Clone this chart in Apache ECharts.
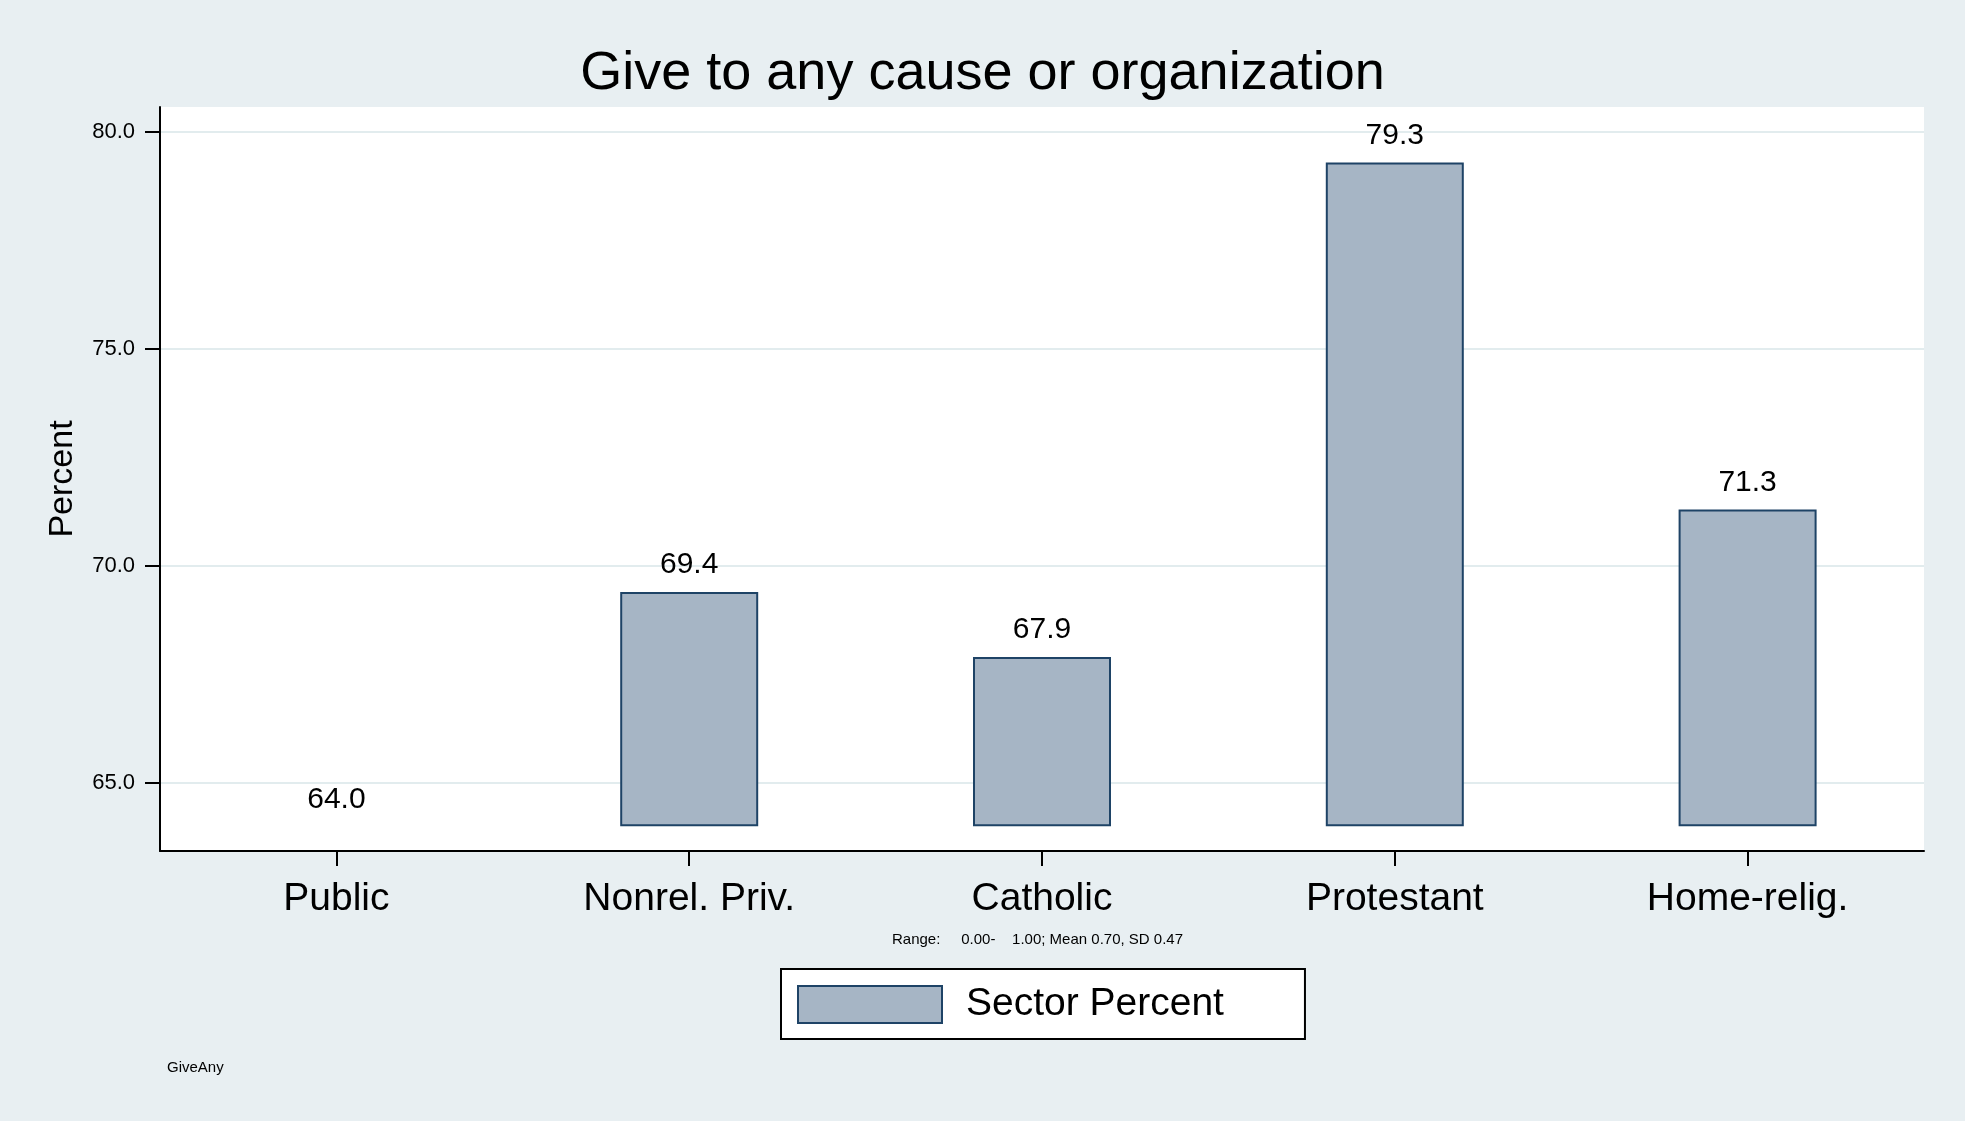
<!DOCTYPE html>
<html>
<head>
<meta charset="utf-8">
<script src="https://cdn.jsdelivr.net/npm/echarts@6/dist/echarts.min.js"></script>
<style>
html,body{margin:0;padding:0;background:#ffffff;}
#c{width:1965px;height:1125px;}
</style>
</head>
<body>
<div id="c"></div>
<script>
const categories = ['Public', 'Nonrel. Priv.', 'Catholic', 'Protestant', 'Home-relig.'];
const values = [64.0, 69.4, 67.9, 79.3, 71.3];
const barBase = 64.0;
const yTicks = [65, 70, 75, 80];
const yMin = 63.43;
const yMax = 80.58;
const seriesName = 'Sector Percent';
const titleText = 'Give to any cause or organization';
const noteText = 'Range:     0.00-    1.00; Mean 0.70, SD 0.47';
const varName = 'GiveAny';

const FONT = "'Liberation Sans', Arial, sans-serif";
const chart = echarts.init(document.getElementById('c'));

chart.setOption({
  backgroundColor: '#e8eff2',
  animation: false,
  title: {
    text: titleText,
    left: 'center',
    top: 47,
    padding: 0,
    textStyle: { fontFamily: FONT, fontSize: 54, fontWeight: 'normal', color: '#000' }
  },
  legend: {
    data: [seriesName],
    left: 781,
    top: 969,
    orient: 'horizontal',
    backgroundColor: '#ffffff',
    borderColor: '#000000',
    borderWidth: 2,
    borderRadius: 0,
    padding: [16, 81, 15, 16],
    itemWidth: 144,
    itemHeight: 37,
    icon: 'rect',
    selectedMode: false,
    itemStyle: { color: '#a6b5c5', borderColor: '#1e4366', borderWidth: 2 },
    textStyle: { fontFamily: FONT, fontSize: 39, color: '#000', padding: [0, 0, 0, 19] }
  },
  grid: {
    left: 160, right: 41, top: 107, bottom: 274,
    show: true, backgroundColor: '#ffffff', borderWidth: 0
  },
  xAxis: {
    type: 'category',
    data: categories,
    boundaryGap: true,
    axisLine: { show: true, lineStyle: { color: '#000', width: 2 } },
    axisTick: { show: true, alignWithLabel: true, length: 15, lineStyle: { color: '#000', width: 2 } },
    axisLabel: { fontFamily: FONT, fontSize: 39, color: '#000', margin: 29 },
    splitLine: { show: false }
  },
  yAxis: {
    type: 'value',
    min: yMin,
    max: yMax,
    name: 'Percent',
    nameLocation: 'middle',
    nameGap: 80,
    nameTextStyle: { fontFamily: FONT, fontSize: 34, color: '#000' },
    axisLine: { show: true, lineStyle: { color: '#000', width: 2 } },
    axisTick: { show: true, length: 15, customValues: yTicks, lineStyle: { color: '#000', width: 2 } },
    axisLabel: {
      fontFamily: FONT, fontSize: 22, color: '#000', margin: 25,
      customValues: yTicks,
      formatter: v => Number(v).toFixed(1)
    },
    splitLine: { show: true, lineStyle: { color: '#e2ecee', width: 2 } }
  },
  series: [
    {
      name: 'base',
      type: 'bar',
      stack: 'b',
      silent: true,
      barWidth: 138,
      data: categories.map(() => barBase),
      itemStyle: { color: 'rgba(0,0,0,0)', borderWidth: 0 },
      label: { show: false },
      tooltip: { show: false }
    },
    {
      name: seriesName,
      type: 'bar',
      stack: 'b',
      barWidth: 138,
      data: values.map(v => ({
        value: v - barBase,
        itemStyle: (v - barBase) === 0 ? { borderWidth: 0, color: 'rgba(0,0,0,0)' } : undefined
      })),
      itemStyle: { color: '#a6b5c5', borderColor: '#1e4366', borderWidth: 2 },
      label: {
        show: true,
        position: 'top',
        distance: 12,
        fontFamily: FONT, fontSize: 30, color: '#000',
        formatter: p => values[p.dataIndex].toFixed(1)
      }
    }
  ],
  graphic: [
    {
      type: 'text', left: 892, top: 932,
      style: { text: noteText, font: '15px ' + FONT, fill: '#000' }
    },
    {
      type: 'text', left: 167, top: 1060,
      style: { text: varName, font: '15px ' + FONT, fill: '#000' }
    },
    {
      type: 'rect', left: 0, top: 1121,
      shape: { width: 1965, height: 4 },
      style: { fill: '#ffffff' }
    }
  ]
});
</script>
</body>
</html>
